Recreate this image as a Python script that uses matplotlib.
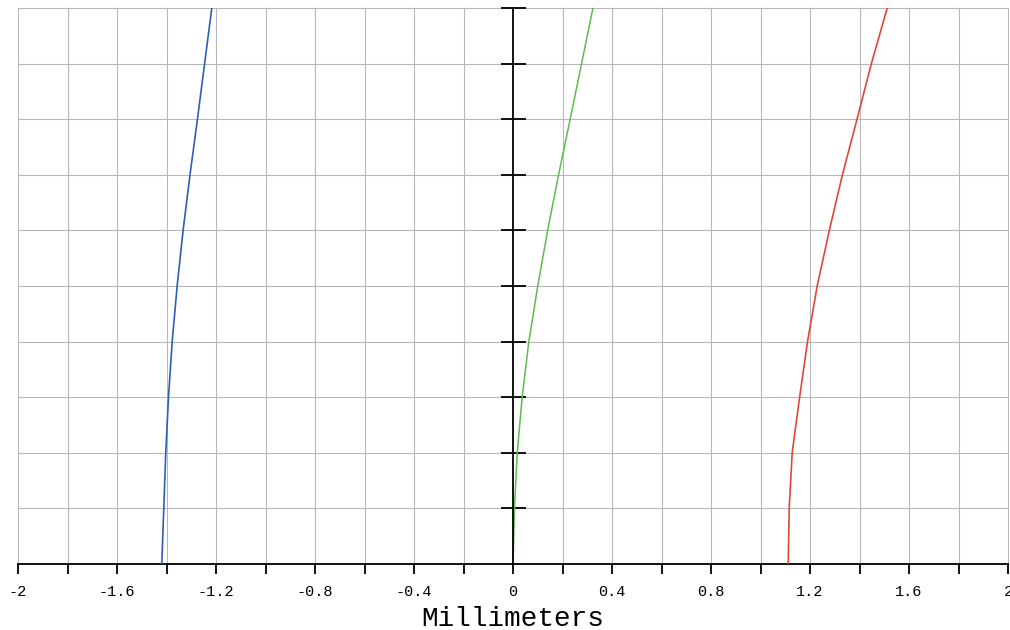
import numpy as np
import matplotlib
matplotlib.use('Agg')
from matplotlib import pyplot as plt

# valores (altura normalizada 0..1)
alturas = [0.0, 0.1, 0.2, 0.3, 0.4, 0.5, 0.6, 0.7, 0.8, 0.9, 1.0]
azul_x = [-1.419, -1.411, -1.403, -1.392, -1.377, -1.357, -1.333, -1.305, -1.275, -1.246, -1.217]
verde_x = [0.0, 0.006, 0.017, 0.037, 0.064, 0.100, 0.140, 0.184, 0.231, 0.277, 0.323]
rojo_x = [1.112, 1.116, 1.128, 1.158, 1.190, 1.229, 1.278, 1.331, 1.390, 1.448, 1.512]

x_ticks = [-2, -1.8, -1.6, -1.4, -1.2, -1.0, -0.8, -0.6, -0.4, -0.2, 0,
           0.2, 0.4, 0.6, 0.8, 1.0, 1.2, 1.4, 1.6, 1.8, 2]
x_labels = ['-2', '', '-1.6', '', '-1.2', '', '-0.8', '', '-0.4', '', '0',
            '', '0.4', '', '0.8', '', '1.2', '', '1.6', '', '2']
y_ticks = [0.1, 0.2, 0.3, 0.4, 0.5, 0.6, 0.7, 0.8, 0.9, 1.0]

plt.rcParams['font.family'] = ['Liberation Mono', 'DejaVu Sans Mono']

fig = plt.figure(figsize=(10.1, 6.3), dpi=100)
ax = fig.add_axes([18/1010, 1 - 564/630, 990/1010, 556/630])

ax.set_xlim(-2, 2)
ax.set_ylim(0, 1)

# rejilla gris
for xv in x_ticks:
    if xv != 0:
        ax.axvline(xv, color='#b8b8b8', lw=0.8, zorder=0, clip_on=False)
for yv in y_ticks:
    ax.axhline(yv, color='#b8b8b8', lw=0.8, zorder=0, clip_on=False)

ax.plot(azul_x, alturas, color='#2f5fb3', lw=1.2, zorder=3)
ax.plot(verde_x, alturas, color='#5dbb4f', lw=1.1, zorder=3)
ax.plot(rojo_x, alturas, color='#e0473a', lw=1.2, zorder=3)

# ejes
for lado in ['top', 'right']:
    ax.spines[lado].set_visible(False)
ax.spines['left'].set_position(('data', 0))
ax.spines['left'].set_color('black')
ax.spines['left'].set_linewidth(1.3)
ax.spines['bottom'].set_linewidth(1.3)
ax.spines['left'].set_zorder(4)

ax.set_xticks(x_ticks)
ax.set_xticklabels(x_labels, fontsize=11)
ax.tick_params(axis='x', direction='out', length=7, width=1.3, pad=8)

ax.set_yticks(y_ticks)
ax.set_yticklabels([])
ax.tick_params(axis='y', direction='inout', length=18, width=1.3)

ax.set_xlabel('Millimeters', fontsize=20, labelpad=5)

fig.savefig('out.png', dpi=100)
